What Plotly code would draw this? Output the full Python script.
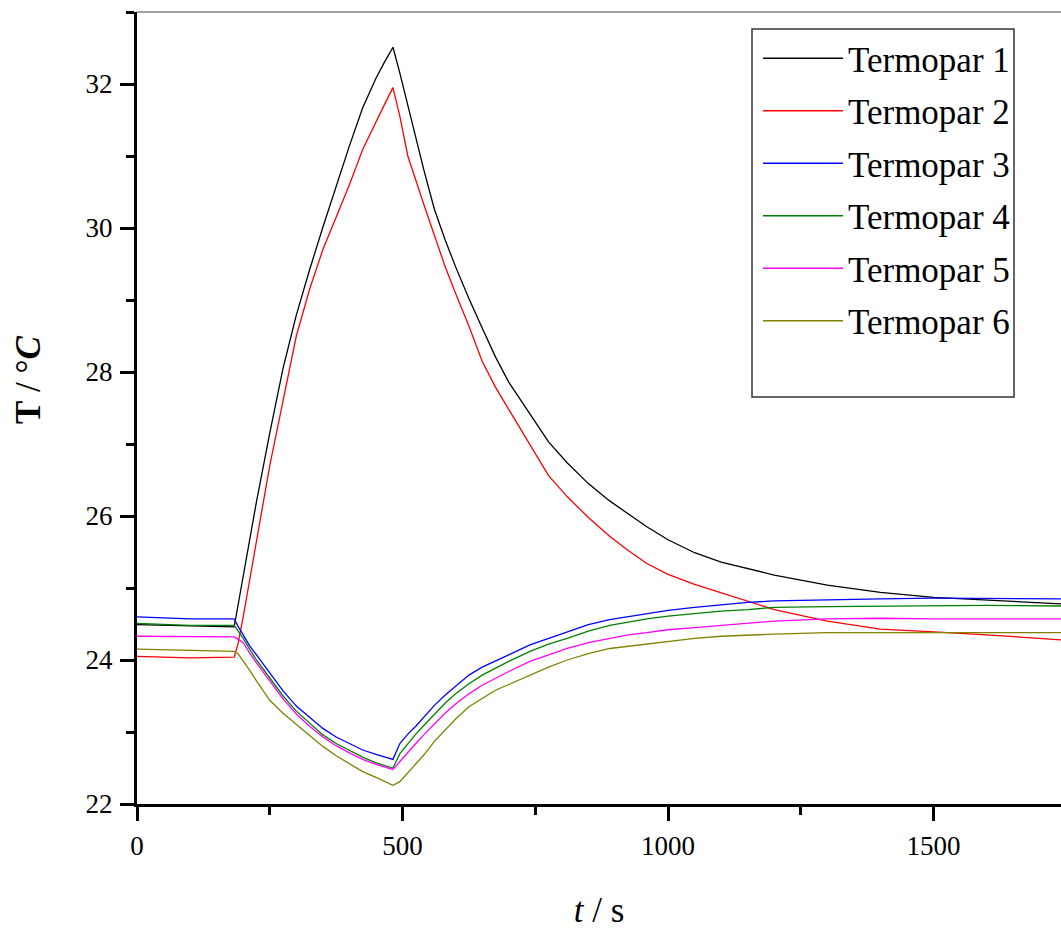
import plotly.graph_objects as go

# time (s)
t = [0, 100, 183, 190, 200, 212, 225, 250, 275, 300, 325, 350, 375, 400, 425, 450, 465,
     482, 495, 510, 525, 540, 560, 580, 600, 625, 650, 675, 700, 740, 775, 810, 850,
     890, 925, 960, 1000, 1050, 1100, 1150, 1200, 1300, 1400, 1500, 1600, 1740]

termopar_1 = [24.49, 24.47, 24.46, 24.75, 25.17, 25.67, 26.20, 27.15, 28.05, 28.79, 29.42,
              30.01, 30.58, 31.14, 31.67, 32.08, 32.29, 32.51, 32.15, 31.69, 31.23, 30.81,
              30.26, 29.84, 29.46, 29.02, 28.61, 28.21, 27.86, 27.41, 27.03, 26.74, 26.45,
              26.21, 26.03, 25.85, 25.67, 25.49, 25.36, 25.27, 25.18, 25.04, 24.94, 24.87,
              24.83, 24.78]
termopar_2 = [24.05, 24.03, 24.04, 24.22, 24.60, 25.10, 25.70, 26.70, 27.60, 28.50, 29.15,
              29.70, 30.15, 30.60, 31.09, 31.48, 31.70, 31.95, 31.55, 31.00, 30.66, 30.33,
              29.90, 29.47, 29.09, 28.64, 28.15, 27.79, 27.48, 26.99, 26.56, 26.27, 25.98,
              25.72, 25.52, 25.34, 25.19, 25.05, 24.93, 24.81, 24.70, 24.54, 24.43, 24.39,
              24.35, 24.28]
termopar_3 = [24.60, 24.57, 24.57, 24.47, 24.35, 24.20, 24.07, 23.82, 23.57, 23.36, 23.20,
              23.05, 22.93, 22.84, 22.75, 22.69, 22.66, 22.62, 22.84, 22.97, 23.08, 23.20,
              23.37, 23.51, 23.64, 23.79, 23.90, 23.99, 24.07, 24.21, 24.30, 24.39, 24.49,
              24.56, 24.60, 24.65, 24.69, 24.73, 24.77, 24.80, 24.82, 24.84, 24.85, 24.86,
              24.86, 24.85]
termopar_4 = [24.51, 24.48, 24.48, 24.41, 24.30, 24.15, 24.00, 23.75, 23.50, 23.29, 23.12,
              22.96, 22.84, 22.74, 22.65, 22.57, 22.54, 22.50, 22.70, 22.84, 22.97, 23.09,
              23.25, 23.40, 23.53, 23.67, 23.79, 23.89, 23.98, 24.12, 24.22, 24.30, 24.40,
              24.48, 24.53, 24.57, 24.61, 24.65, 24.68, 24.70, 24.73, 24.74, 24.75, 24.76,
              24.76, 24.75]
termopar_5 = [24.33, 24.32, 24.32, 24.29, 24.24, 24.10, 23.96, 23.71, 23.46, 23.25, 23.08,
              22.93, 22.81, 22.71, 22.62, 22.55, 22.52, 22.48, 22.59, 22.72, 22.84, 22.96,
              23.11, 23.26, 23.39, 23.53, 23.65, 23.75, 23.84, 23.98, 24.07, 24.16, 24.24,
              24.30, 24.35, 24.38, 24.42, 24.45, 24.48, 24.52, 24.54, 24.57, 24.58, 24.57,
              24.57, 24.57]
termopar_6 = [24.15, 24.13, 24.12, 24.09, 23.99, 23.86, 23.71, 23.44, 23.26, 23.11, 22.95,
              22.80, 22.67, 22.56, 22.45, 22.37, 22.32, 22.26, 22.31, 22.43, 22.55, 22.68,
              22.87, 23.03, 23.18, 23.35, 23.46, 23.58, 23.66, 23.79, 23.90, 24.00, 24.09,
              24.16, 24.19, 24.22, 24.26, 24.30, 24.33, 24.35, 24.36, 24.38, 24.38, 24.38,
              24.38, 24.38]

names = ["Termopar 1", "Termopar 2", "Termopar 3", "Termopar 4", "Termopar 5", "Termopar 6"]
series = [termopar_1, termopar_2, termopar_3, termopar_4, termopar_5, termopar_6]
colors = ["#000000", "#ff0000", "#0000ff", "#008000", "#ff00ff", "#808000"]

x_ticks = [0, 500, 1000, 1500]
x_minor = [250, 750, 1250, 1750]
y_ticks = [22, 24, 26, 28, 30, 32]
y_minor = [23, 25, 27, 29, 31, 33]

FONT = "Liberation Serif, Times New Roman, serif"

fig = go.Figure()
for i, (nm, ys, c) in enumerate(zip(names, series, colors)):
    fig.add_trace(go.Scatter(x=t, y=ys, mode="lines", name=nm,
                             legendgroup=f"g{i}",
                             line=dict(color=c, width=1.3)))

W, H = 1061, 930
L, T, B, R = 137, 12, 126, 0
pw = W - L - R
ph = H - T - B

def px2x(p):
    return (p - L) / pw

def py2y(p):
    return (H - B - p) / ph

axis_common = dict(
    showgrid=False, zeroline=False, showline=True, linecolor="black", linewidth=3,
    ticks="outside", ticklen=14, tickwidth=2.5, tickcolor="black",
    tickfont=dict(family=FONT, size=27, color="black"),
)

fig.update_layout(
    width=W, height=H,
    margin=dict(l=L, r=R, t=T, b=B, pad=0),
    paper_bgcolor="white", plot_bgcolor="white",
    font=dict(family=FONT, color="black"),
    xaxis=dict(range=[0, 1740], tickvals=x_ticks,
               minor=dict(tickvals=x_minor, ticklen=8, tickwidth=2.5,
                          tickcolor="black", ticks="outside"),
               ticklabelstandoff=2,
               title=dict(text="<i>t</i> / s", font=dict(family=FONT, size=35), standoff=48),
               automargin=False,
               **axis_common),
    yaxis=dict(range=[22, 33], tickvals=y_ticks,
               minor=dict(tickvals=y_minor, ticklen=8, tickwidth=2.5,
                          tickcolor="black", ticks="outside"),
               ticklabelstandoff=2,
               automargin=False,
               **axis_common),
    showlegend=True,
    legend=dict(x=px2x(758), y=py2y(29), xanchor="left", yanchor="top",
                bgcolor="rgba(255,255,255,0)", borderwidth=0,
                font=dict(family=FONT, size=35, color="black"),
                tracegroupgap=4, itemwidth=80),
    annotations=[dict(text="<b>T</b> / °<b><i>C</i></b>", textangle=-90,
                      xref="paper", yref="paper", x=px2x(28), y=py2y(380),
                      xanchor="center", yanchor="middle", showarrow=False,
                      font=dict(family=FONT, size=35, color="black"))],
    shapes=[
        dict(type="line", xref="paper", yref="paper", x0=0, x1=1, y0=1, y1=1,
             line=dict(color="#444444", width=1)),
        dict(type="rect", xref="paper", yref="paper",
             x0=px2x(752), x1=px2x(1014), y0=py2y(397), y1=py2y(29),
             line=dict(color="#333333", width=1.5), fillcolor="rgba(0,0,0,0)"),
    ],
)

fig.write_html("out.html",
               config={"displayModeBar": False},
               post_script="document.body.style.margin='0';document.body.style.overflow='hidden';")
